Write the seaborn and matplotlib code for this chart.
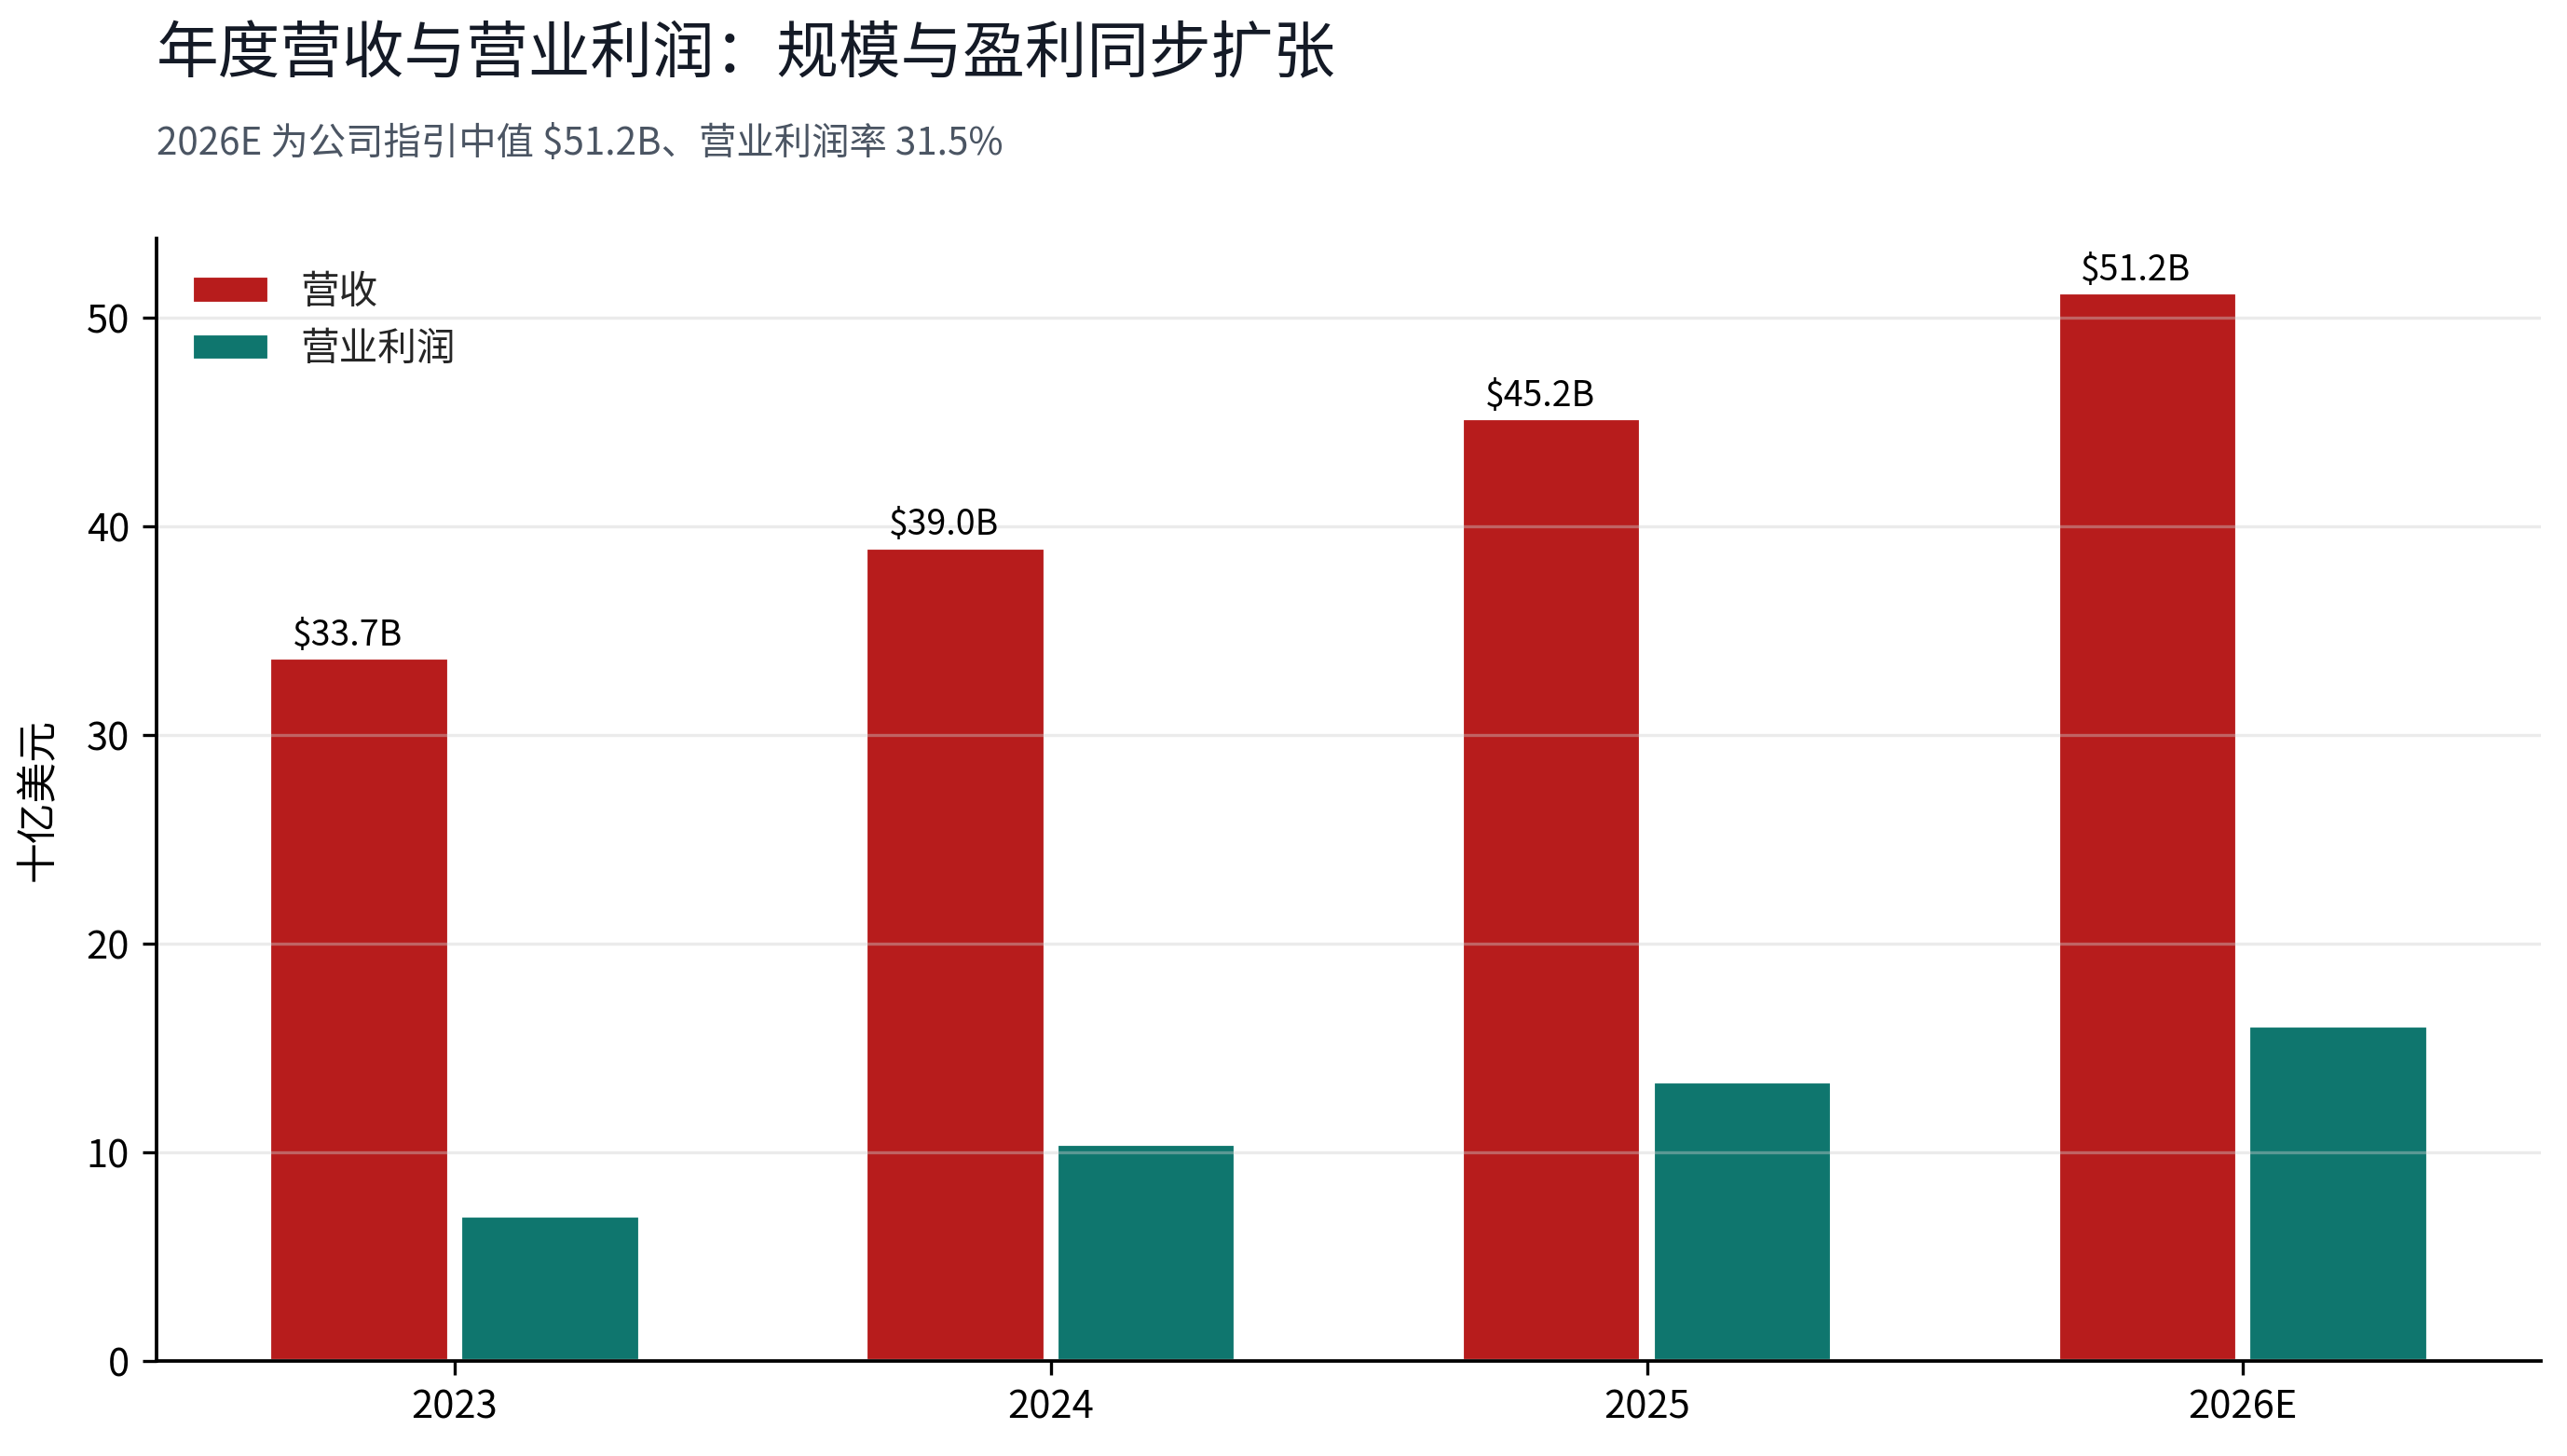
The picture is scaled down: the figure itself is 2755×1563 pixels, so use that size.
import matplotlib
matplotlib.use("Agg")
import matplotlib.pyplot as plt
import seaborn as sns
import pandas as pd

# data (USD billions)
years = ["2023", "2024", "2025", "2026E"]
revenue = [33.7, 39.0, 45.2, 51.2]
op_profit = [7.0, 10.4, 13.4, 16.1]
series_names = ["营收", "营业利润"]

title = "年度营收与营业利润：规模与盈利同步扩张"
subtitle = "2026E 为公司指引中值 $51.2B、营业利润率 31.5%"

sns.set_theme(style="white")
plt.rcParams["font.family"] = ["Noto Sans CJK SC", "DejaVu Sans"]
plt.rcParams["axes.unicode_minus"] = False
plt.rcParams["axes.axisbelow"] = "line"   # grid sits over the bars

df = pd.DataFrame({
    "year": years * 2,
    "value": revenue + op_profit,
    "series": [series_names[0]] * len(years) + [series_names[1]] * len(years),
})

palette = {series_names[0]: "#B71C1C", series_names[1]: "#0F766E"}

fig = plt.figure(figsize=(2755 / 300, 1563 / 300), dpi=300)
ax = fig.add_axes([0.061, 0.065, 0.9289, 0.7712])

sns.barplot(data=df, x="year", y="value", hue="series", order=years,
            hue_order=series_names, palette=palette, width=0.64, gap=0.06,
            saturation=1, ax=ax)

# value labels on the revenue bars
for bar, v in zip(ax.containers[0], revenue):
    ax.annotate(f"${v:.1f}B", (bar.get_x() + bar.get_width() / 2, bar.get_height()),
                xytext=(-3, 1), textcoords="offset points",
                ha="center", va="bottom", fontsize=9, color="black")

ax.set_xlim(-0.5, 3.5)
ax.set_ylim(0, 53.8)
ax.set_xlabel("")
ax.set_ylabel("十亿美元", fontsize=10.5, labelpad=7, color="black")
ax.tick_params(axis="both", labelsize=10, colors="black", length=3.5,
               width=0.8, bottom=True, left=True)
ax.yaxis.grid(True, color="#cfcfcf", linewidth=0.8, alpha=0.4)
ax.xaxis.grid(False)

for side in ["top", "right"]:
    ax.spines[side].set_visible(False)
for side in ["left", "bottom"]:
    ax.spines[side].set_color("black")
    ax.spines[side].set_linewidth(0.9)

ax.legend(loc="upper left", frameon=False, fontsize=10, title=None)

fig.text(0.061, 0.962, title, fontsize=16, color="#141a26",
         ha="left", va="center")
fig.text(0.061, 0.901, subtitle, fontsize=9.7, color="#4b5563",
         ha="left", va="center")

fig.savefig("out.png", dpi=300)
